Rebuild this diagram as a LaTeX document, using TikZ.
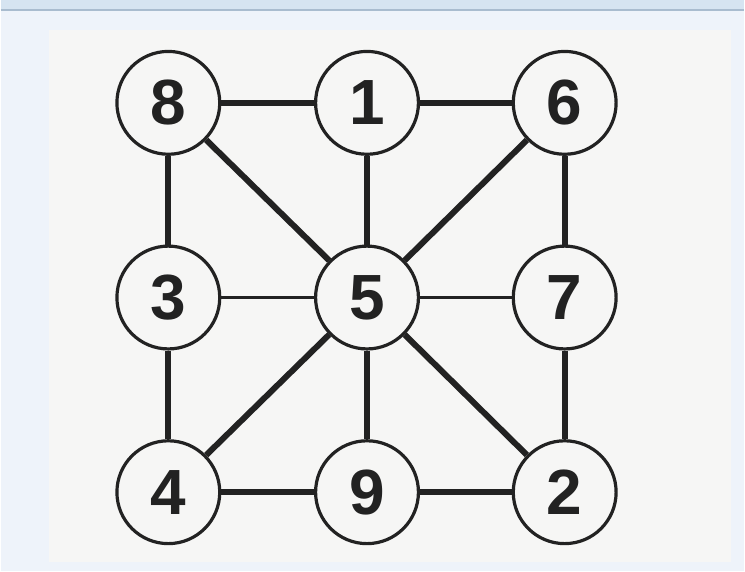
\documentclass[tikz,border=0pt]{standalone}
\usepackage{fontspec}
\setmainfont{Liberation Sans}
\definecolor{pageblue}{HTML}{EEF3FA}
\definecolor{barblue}{HTML}{D6E4F1}
\definecolor{barline}{HTML}{A9BCCF}
\definecolor{paper}{HTML}{F6F6F5}
\definecolor{ink}{HTML}{222222}
\tikzset{
  numnode/.style={draw=ink, line width=3.2pt, circle, fill=paper, minimum size=103pt, inner sep=0pt, text=ink, font=\fontsize{64}{64}\selectfont\bfseries},
  thickedge/.style={draw=ink, line width=6pt},
  thinedge/.style={draw=ink, line width=3pt}
}
\begin{document}
\begin{tikzpicture}[x=1pt, y=-1pt]
\fill[pageblue] (0,0) rectangle (745,572);
\fill[barblue] (0,0) rectangle (745,10);
\draw[barline, line width=1.2pt] (0,10) -- (745,10);
\fill[paper] (48,30) rectangle (732,563);
\useasboundingbox (0,0) rectangle (745,572);
% the nine numbers
\node[numnode] (n8) at (168,103) {8};
\node[numnode] (n1) at (367,103) {1};
\node[numnode] (n6) at (565,103) {6};
\node[numnode] (n3) at (168,298) {3};
\node[numnode] (n5) at (367,298) {5};
\node[numnode] (n7) at (565,298) {7};
\node[numnode] (n4) at (168,493) {4};
\node[numnode] (n9) at (367,493) {9};
\node[numnode] (n2) at (565,493) {2};
% edges
\draw[thickedge] (n8) -- (n1);
\draw[thickedge] (n1) -- (n6);
\draw[thickedge] (n8) -- (n3);
\draw[thickedge] (n8) -- (n5);
\draw[thickedge] (n1) -- (n5);
\draw[thickedge] (n6) -- (n5);
\draw[thickedge] (n6) -- (n7);
\draw[thinedge] (n3) -- (n5);
\draw[thinedge] (n5) -- (n7);
\draw[thickedge] (n3) -- (n4);
\draw[thickedge] (n4) -- (n5);
\draw[thickedge] (n5) -- (n9);
\draw[thickedge] (n5) -- (n2);
\draw[thickedge] (n7) -- (n2);
\draw[thickedge] (n4) -- (n9);
\draw[thickedge] (n9) -- (n2);
\end{tikzpicture}
\end{document}
